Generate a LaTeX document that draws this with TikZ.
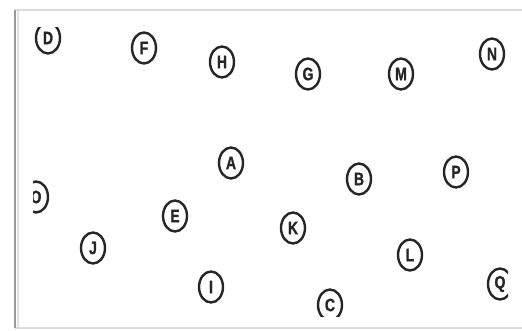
\documentclass[tikz,border=0pt]{standalone}
\usepackage{fontspec}
\newfontfamily\labfont[FakeStretch=0.78,BoldFeatures={FakeBold=1.2}]{Liberation Sans}
\usetikzlibrary{shapes.geometric}
\tikzset{
  vtx/.style={ellipse, draw=black!85, line width=2.4pt, minimum width=24pt, minimum height=31pt,
    inner sep=0pt, text=black!85, font=\labfont\bfseries\fontsize{18}{18}\selectfont},
  frameleft/.style={draw=black!40, line width=2.2pt},
  frameshadow/.style={draw=black!12, line width=2pt},
  frameedge/.style={draw=black!14, line width=1.4pt}
}
\begin{document}
\begin{tikzpicture}[x=1pt,y=-1pt]
\useasboundingbox[fill=white] (0,0) rectangle (522,331);
% frame
\coordinate (ftl) at (15,10);
\coordinate (ftr) at (522,10);
\coordinate (fbl) at (15,328);
\coordinate (fbr) at (522,328);
\draw[frameedge] (ftl) -- (ftr);
\draw[frameedge] (fbl) -- (fbr);
\draw[frameshadow] ([xshift=2.5pt]ftl) -- ([xshift=2.5pt]fbl);
\draw[frameleft] (ftl) -- (fbl);
\begin{scope}
\clip (33,28) rectangle (508,316);
\node[vtx] (D) at (48,38) {D};
\node[vtx] (F) at (144,48) {F};
\node[vtx] (H) at (222,62) {H};
\node[vtx] (G) at (308,74) {G};
\node[vtx] (M) at (401,74) {M};
\node[vtx] (N) at (492,54) {N};
\node[vtx] (A) at (231,163) {A};
\node[vtx] (B) at (359,179) {B};
\node[vtx] (P) at (456,172) {P};
\node[vtx] (O) at (36,197) {O};
\node[vtx] (E) at (175,216) {E};
\node[vtx] (K) at (293,228) {K};
\node[vtx] (J) at (93,248) {J};
\node[vtx] (L) at (410,255) {L};
\node[vtx] (I) at (211,287) {I};
\node[vtx] (Q) at (500,284) {Q};
\node[vtx] (C) at (330,305) {C};
\end{scope}
\end{tikzpicture}
\end{document}
